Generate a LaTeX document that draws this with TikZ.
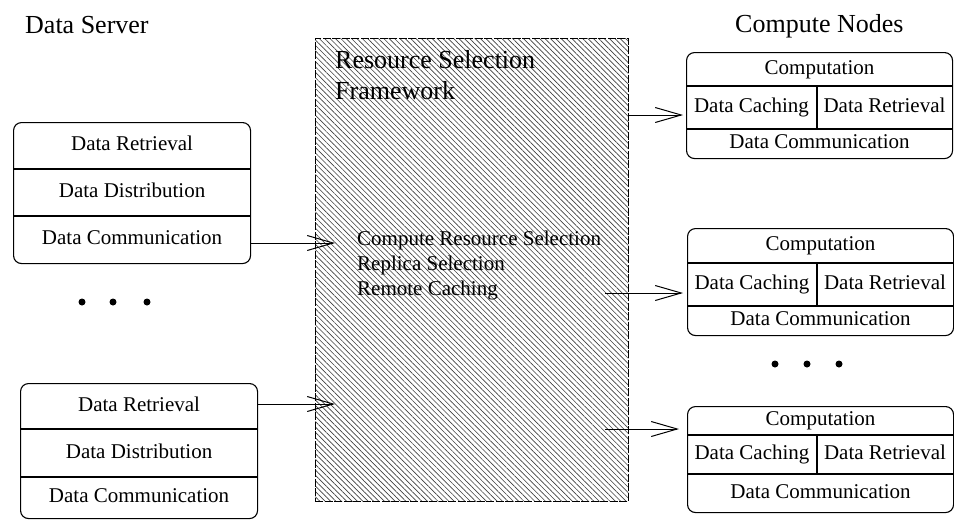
\documentclass[tikz,border=0pt]{standalone}
\usepackage{fontspec}
\setmainfont{Liberation Serif}
\usetikzlibrary{arrows.meta,patterns.meta}

\tikzset{
  unit/.style={draw, line width=1.1pt, rounded corners=8pt, inner sep=0pt, anchor=north west},
  part/.style={font=\fontsize{21}{25}\selectfont, inner sep=0pt, text height=14pt, text depth=4pt},
  head/.style={font=\fontsize{26}{31}\selectfont, inner sep=0pt},
  flow/.style={line width=1pt, -{Straight Barb[length=26pt,width=15pt,line width=1pt]}},
  dot/.style={circle, fill, inner sep=0pt, minimum size=7pt},
}

\begin{document}
\begin{tikzpicture}[x=1pt, y=-1pt]
\useasboundingbox (0,0) rectangle (954,520);
%Titles
\node[head, anchor=base west] (srvtitle) at (25,33) {Data Server};
\node[head, anchor=base west] (cntitle) at (735,32) {Compute Nodes};
%Framework
\node[draw, line width=1pt, dash pattern=on 8pt off 1.5pt, pattern={Lines[angle=-45,distance=3.8pt,line width=0.65pt]}, pattern color=black!75, minimum width=313pt, minimum height=463pt, inner sep=0pt, anchor=north west] (fw) at (315,38) {};
\node[head, anchor=north west, align=left] (fwtitle) at (335,50) {Resource Selection\\Framework};
\node[font=\fontsize{21}{25}\selectfont, inner sep=0pt, anchor=north west, align=left] (fwtasks) at (357,231) {Compute Resource Selection\\Replica Selection\\Remote Caching};
%Data server 1
\node[unit, minimum width=237pt, minimum height=141pt] (srvA) at (13,122) {};
\draw[line width=1.1pt] (srvA.west |- 0,169) -- (srvA.east |- 0,169);
\draw[line width=1.1pt] (srvA.west |- 0,216) -- (srvA.east |- 0,216);
\node[part] (srvAret) at (srvA.north |- 0,145.5) {Data Retrieval};
\node[part] (srvAdis) at (srvA.north |- 0,192.5) {Data Distribution};
\node[part] (srvAcom) at (srvA.north |- 0,239.5) {Data Communication};
%Data server 2
\node[unit, minimum width=237pt, minimum height=135pt] (srvB) at (20,383) {};
\draw[line width=1.1pt] (srvB.west |- 0,429) -- (srvB.east |- 0,429);
\draw[line width=1.1pt] (srvB.west |- 0,477) -- (srvB.east |- 0,477);
\node[part] (srvBret) at (srvB.north |- 0,406) {Data Retrieval};
\node[part] (srvBdis) at (srvB.north |- 0,453) {Data Distribution};
\node[part] (srvBcom) at (srvB.north |- 0,497) {Data Communication};
%Compute node 1
\node[unit, minimum width=266pt, minimum height=106pt] (cnA) at (686,52) {};
\draw[line width=1.1pt] (cnA.west |- 0,86) -- (cnA.east |- 0,86);
\draw[line width=1.1pt] (cnA.west |- 0,129) -- (cnA.east |- 0,129);
\draw[line width=1.1pt] (817,86) -- (817,129);
\node[part] (cnAcomp) at (cnA.north |- 0,69) {Computation};
\node[part] (cnAcache) at (751.5,107.5) {Data Caching};
\node[part] (cnAret) at (884.5,107.5) {Data Retrieval};
\node[part] (cnAcom) at (cnA.north |- 0,143.5) {Data Communication};
%Compute node 2
\node[unit, minimum width=266pt, minimum height=107pt] (cnB) at (687,228) {};
\draw[line width=1.1pt] (cnB.west |- 0,263) -- (cnB.east |- 0,263);
\draw[line width=1.1pt] (cnB.west |- 0,306) -- (cnB.east |- 0,306);
\draw[line width=1.1pt] (817,263) -- (817,306);
\node[part] (cnBcomp) at (cnB.north |- 0,245.5) {Computation};
\node[part] (cnBcache) at (752,284.5) {Data Caching};
\node[part] (cnBret) at (885,284.5) {Data Retrieval};
\node[part] (cnBcom) at (cnB.north |- 0,320.5) {Data Communication};
%Compute node 3
\node[unit, minimum width=266pt, minimum height=106pt] (cnC) at (687,406) {};
\draw[line width=1.1pt] (cnC.west |- 0,435) -- (cnC.east |- 0,435);
\draw[line width=1.1pt] (cnC.west |- 0,474) -- (cnC.east |- 0,474);
\draw[line width=1.1pt] (817,435) -- (817,474);
\node[part] (cnCcomp) at (cnC.north |- 0,420.5) {Computation};
\node[part] (cnCcache) at (752,454.5) {Data Caching};
\node[part] (cnCret) at (885,454.5) {Data Retrieval};
\node[part] (cnCcom) at (cnC.north |- 0,493) {Data Communication};
%Dots
\foreach \x in {82,113,147} \node[dot] at (\x,302) {};
\foreach \x in {775,807,839} \node[dot] at (\x,364) {};
%Arrows
\coordinate (inA) at (335,243);
\coordinate (inB) at (335,404);
\coordinate (outB) at (605,293);
\coordinate (outC) at (605,429);
\draw[flow] (srvA.east |- inA) -- (inA);
\draw[flow] (srvB.east |- inB) -- (inB);
\draw[flow, shorten >=3pt] (fw.east |- 0,115) -- (cnA.west |- 0,115);
\draw[flow, shorten >=4pt] (outB) -- (cnB.west |- outB);
\draw[flow, shorten >=8pt] (outC) -- (cnC.west |- outC);
\end{tikzpicture}
\end{document}
